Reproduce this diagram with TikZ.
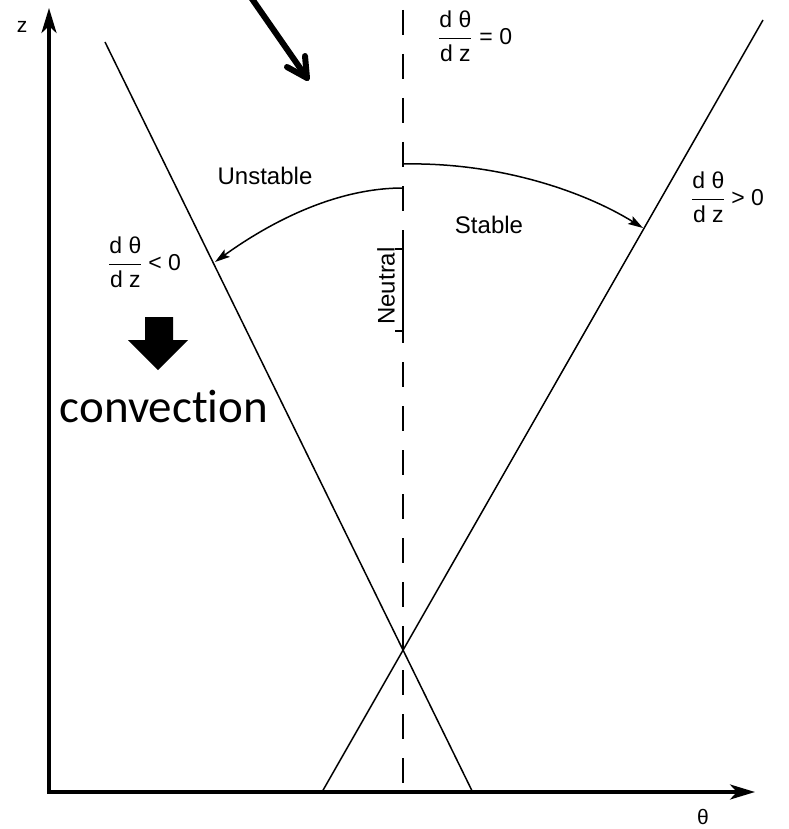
\documentclass[tikz,border=0pt]{standalone}
\usepackage{fontspec}
\setmainfont{Liberation Sans}
\newfontfamily\convfont[Ligatures=NoCommon]{Carlito}
\usetikzlibrary{arrows.meta}
\newcommand{\myfrac}{\ensuremath{\displaystyle\frac{\mbox{d θ}}{\mbox{d z}}}}
\begin{document}
\begin{tikzpicture}[x=1pt,y=-1pt,
  lbl/.style={inner sep=0pt, font=\fontsize{21}{25}\selectfont},
  fr/.style={inner sep=0pt, font=\fontsize{23}{27}\selectfont},
  big/.style={inner sep=0pt, font=\fontsize{24}{28}\selectfont},
  thinline/.style={line width=1.5pt},
  axisline/.style={line width=3.5pt, -{Stealth[length=25pt,width=15pt,inset=7pt]}},
  arcline/.style={line width=1.5pt, -{Stealth[length=15pt,width=9pt,inset=3pt]}},
  handline/.style={line width=6pt, line cap=round, line join=round},
]
\useasboundingbox (0,0) rectangle (788,829);
% axes
\coordinate (O) at (49,792);
\coordinate (Ox) at (47,792);
\coordinate (ztip) at (49,8);
\coordinate (ttip) at (755,792);
\draw[axisline] (O) -- (ztip);
\draw[axisline] (Ox) -- (ttip);
\node[lbl] (zlab) at (22,27) {z};
\node[lbl] (thlab) at (703,817) {θ};
% diagonal lines
\coordinate (L1a) at (105,42);
\coordinate (L1b) at (472.6,792);
\coordinate (L2a) at (763,20);
\coordinate (L2b) at (322,792);
\draw[thinline] (L1a) -- (L1b);
\draw[thinline] (L2a) -- (L2b);
% neutral dashed line
\coordinate (Na) at (403,10);
\coordinate (Nb) at (403,783);
\draw[thinline, dash pattern=on 25pt off 19pt] (Na) -- (Nb);
% arcs
\coordinate (S0) at (403,164);
\coordinate (S1) at (643,228);
\coordinate (U0) at (403,188);
\coordinate (U1) at (215,262);
\draw[arcline] (S0) .. controls (500,162) and (585,192) .. (S1);
\draw[arcline] (U0) .. controls (330,188) and (262,228) .. (U1);
% labels
\node[big] (unst) at (265,176) {Unstable};
\node[big] (stab) at (489,225) {Stable};
\node[big, rotate=90] (neutral) at (386,286) {Neutral};
\draw[thinline] (395,249) -- (403,249) -- (403,331) -- (395,331);
\node[fr, anchor=west] (f0) at (438,36) {\myfrac\hspace{0.3em}= 0};
\node[fr, anchor=west] (f1) at (108,262) {\myfrac\hspace{0.25em}< 0};
\node[fr, anchor=west] (f2) at (691,197) {\myfrac\hspace{0.25em}> 0};
% hand-drawn arrow
\coordinate (ha0) at (250,-4);
\coordinate (ha1) at (307,78);
\coordinate (hb) at (287,67);
\coordinate (hc) at (305,56);
\draw[handline] (ha0) -- (ha1);
\draw[handline] (hb) -- (ha1) -- (hc);
% block arrow and convection
\fill (145,317) -- (173,317) -- (173,340) -- (188,340) -- (158,370) -- (128,340) -- (145,340) -- cycle;
\node[inner sep=0pt, anchor=base, font=\fontsize{47}{51}\convfont] (conv) at (164,422) {convection};
\end{tikzpicture}
\end{document}
